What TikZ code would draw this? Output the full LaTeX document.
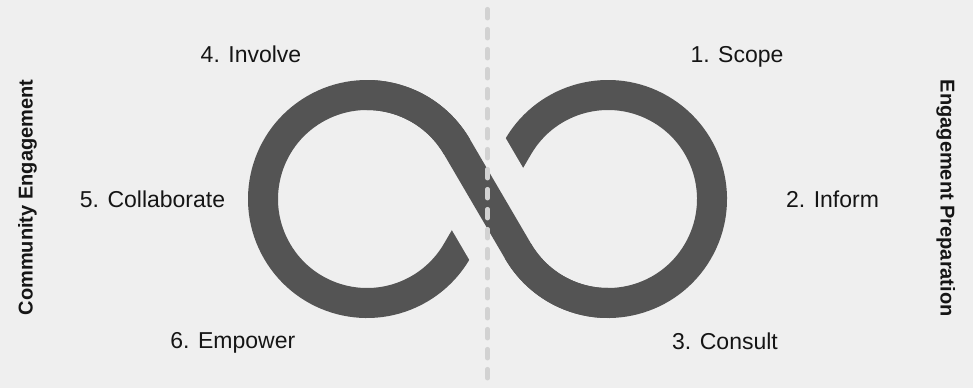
\documentclass[tikz,border=0pt]{standalone}
\usepackage{fontspec}
\setmainfont{Liberation Sans}
\definecolor{bgc}{HTML}{EFEFEF}
\definecolor{inkc}{HTML}{545454}
\definecolor{dashc}{HTML}{D2D2D2}
\definecolor{txtc}{HTML}{151515}
\begin{document}
\begin{tikzpicture}[x=1pt,y=1pt,
  band/.style={draw=inkc,line width=30pt,line cap=butt,line join=round},
  steplabel/.style={inner sep=0pt,anchor=base,text=txtc,font=\fontsize{23}{28}\selectfont},
  sidelabel/.style={inner sep=0pt,anchor=base,text=txtc,font=\fontsize{20}{24}\selectfont\bfseries},
  divider/.style={draw=dashc,line width=4.5pt,line cap=round,dash pattern=on 9pt off 11pt}]
\fill[bgc] (0,0) rectangle (973,-388);
\useasboundingbox (0,0) rectangle (973,-388);
\coordinate (O) at (487.5,-199);
\begin{scope}[shift={(O)}]
  % full infinity path
  \draw[band] (0,0) -- (30.75,52.53)
     arc[start angle=149.66,end angle=-149.66,radius=104]
     -- (0,0) -- (-30.75,52.53)
     arc[start angle=30.34,end angle=329.66,radius=104]
     -- cycle;
  % gap around the over-strand
  \begin{scope}[rotate=-59.66]
    \fill[bgc] (-60,-46.4) rectangle (60,46.4);
  \end{scope}
  % over-strand
  \draw[band] (120.5,-104) arc[start angle=-90,end angle=-149.66,radius=104]
     -- (-30.75,52.53)
     arc[start angle=30.34,end angle=90,radius=104];
\end{scope}
% dashed divider
\coordinate (dtop) at (487.5,-9.2);
\coordinate (dbot) at (487.5,-388);
\draw[divider] (dtop) -- (dbot);
% labels
\node[steplabel] (s4) at (251,-62.7) {4. Involve};
\node[steplabel] (s1) at (737,-62.7) {1. Scope};
\node[steplabel] (s5) at (152.5,-207.3) {5. Collaborate};
\node[steplabel] (s2) at (832.5,-207.3) {2. Inform};
\node[steplabel] (s3) at (725,-349.3) {3. Consult};
\node[steplabel] (s6) at (232.8,-348.7) {6. Empower};
\node[sidelabel,rotate=90] (ce) at (32.7,-197.5) {Community Engagement};
\node[sidelabel,rotate=-90] (ep) at (940.7,-198.3) {Engagement Preparation};
\end{tikzpicture}
\end{document}
